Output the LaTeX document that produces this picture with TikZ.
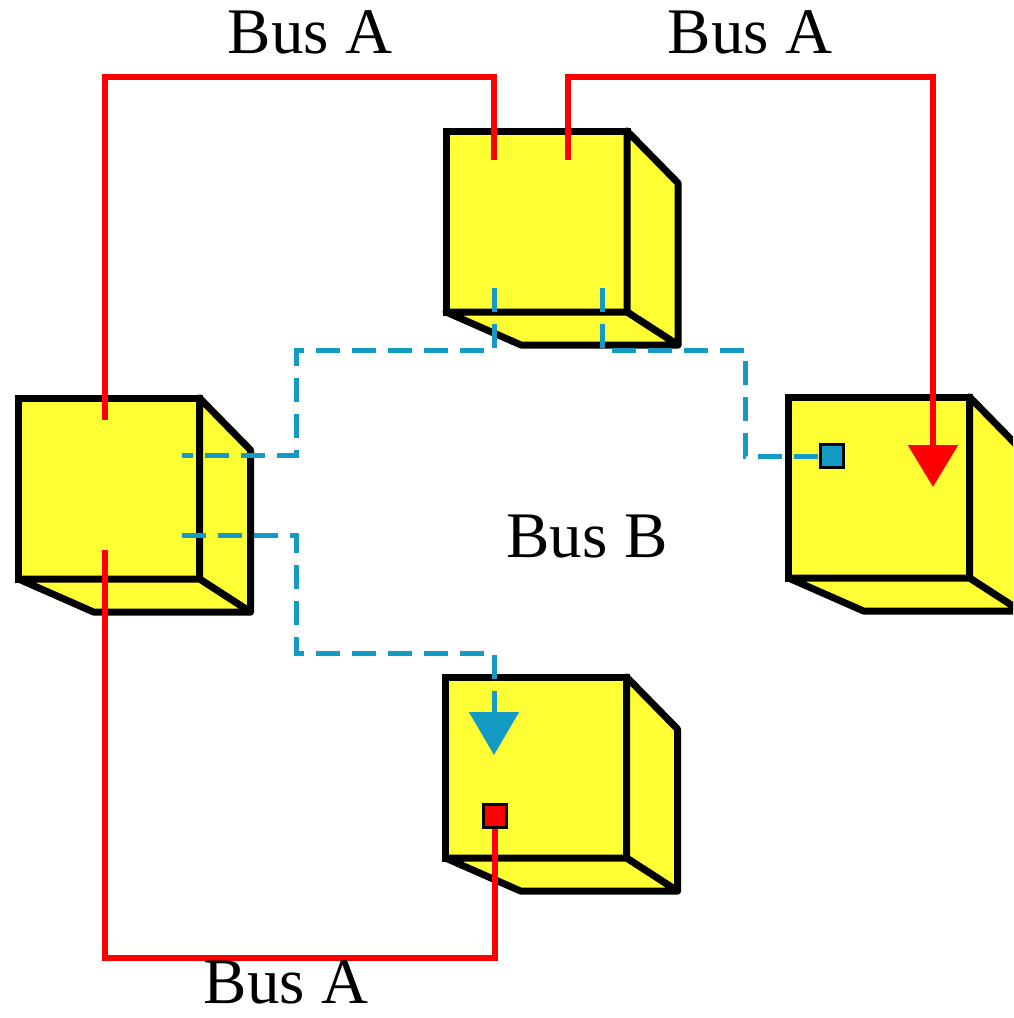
\documentclass[tikz,border=0pt]{standalone}
\usepackage{fontspec}
\setmainfont{Liberation Serif}
\usetikzlibrary{arrows.meta}

\definecolor{cubeyellow}{RGB}{255,255,51}
\definecolor{busred}{RGB}{255,0,0}
\definecolor{busblue}{RGB}{20,155,195}

\tikzset{
  front/.style={draw, line width=7pt, fill=cubeyellow, minimum size=181pt, inner sep=0pt, outer sep=0pt},
  face/.style={draw, line width=7pt, fill=cubeyellow, line join=round},
  busA/.style={draw=busred, line width=6pt},
  busB/.style={draw=busblue, line width=5pt, dash pattern=on 24pt off 12pt},
  port/.style={draw, line width=3pt, minimum size=23pt, inner sep=0pt},
  lbl/.style={font=\fontsize{65}{70}\selectfont, inner sep=0pt, anchor=base}
}

% a cube: front face as a node, side and bottom faces behind it
\newcommand{\cubebox}[2]{%
  \node[front] (#1) at (#2) {};
  \draw[face] (#1.north east) -- ++(51,52) -- ([shift={(51,33)}]#1.south east) -- (#1.south east) -- cycle;
  \draw[face] (#1.south west) -- ++(75,33) -- ([shift={(51,33)}]#1.south east) -- (#1.south east) -- cycle;
}

\begin{document}
\begin{tikzpicture}[x=1pt,y=-1pt]
  \clip (0,0) rectangle (1013,1018);

  % cubes
  \cubebox{top}{536.5,221.5}
  \cubebox{left}{109,488.5}
  \cubebox{right}{879,487.5}
  \cubebox{bottom}{536,767.5}

  % ports
  \node[port, fill=busblue] (right-inB) at (832,456) {};
  \node[port, fill=busred] (bottom-inA) at (494.5,816) {};

  % connection points
  \coordinate (top-a1) at (494,160);
  \coordinate (top-a2) at (568,160);
  \coordinate (top-b1) at (494,288);
  \coordinate (top-b2) at (602,288);
  \coordinate (left-a1) at (105,420);
  \coordinate (left-a2) at (105,550);
  \coordinate (left-b1) at (182,455);
  \coordinate (left-b2) at (182,535);
  \coordinate (right-a) at (933,487);
  \coordinate (bottom-b) at (494,755);
  % bus levels
  \coordinate (a-hi) at (0,77);
  \coordinate (a-lo) at (0,958);
  \coordinate (b-hi) at (0,350);
  \coordinate (b-lo) at (0,653);
  \coordinate (b-xl) at (296,0);
  \coordinate (b-xr) at (745,0);

  % bus A
  \draw[busA] (left-a1) -- (left-a1 |- a-hi) -| (top-a1);
  \draw[busA, -{Triangle[length=42pt,width=49pt]}] (top-a2) -- (top-a2 |- a-hi) -| (right-a);
  \draw[busA] (left-a2) -- (left-a2 |- a-lo) -| (bottom-inA.south);

  % bus B
  \draw[busB] (top-b1) -- (top-b1 |- b-hi) -| (b-xl |- left-b1) -- (left-b1);
  \draw[busB] (top-b2) -- (top-b2 |- b-hi) -| (b-xr |- right-inB) -- (right-inB.west);
  \draw[busB, -{Triangle[length=43pt,width=49pt]}] (left-b2) -| (b-xl |- b-lo) -| (bottom-b);

  % labels
  \node[lbl] (lbl-a1) at (310,53) {Bus A};
  \node[lbl] (lbl-a2) at (750,53) {Bus A};
  \node[lbl] (lbl-b) at (587,557) {Bus B};
  \node[lbl] (lbl-a3) at (286,1003) {Bus A};
\end{tikzpicture}
\end{document}
